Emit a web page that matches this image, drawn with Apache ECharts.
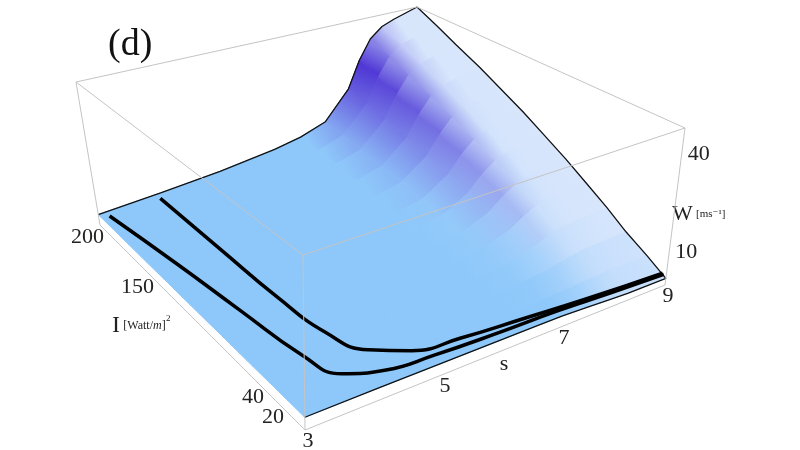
<!DOCTYPE html>
<html lang="en">
<head>
<meta charset="UTF-8">
<title>W(s, I) surface</title>
<script src="https://cdn.jsdelivr.net/npm/echarts@6/dist/echarts.min.js"></script>
<style>
  html, body { margin: 0; padding: 0; background: #fff; }
  #chart { width: 800px; height: 450px; }
</style>
</head>
<body>
<div id="chart"></div>
<script>
// grid of the surface
const sValues = [3, 4, 5, 6, 6.5, 7, 7.5, 7.75, 8, 8.25, 8.5, 9];
const iValues = [5, 22, 40, 57, 75, 92, 110, 127, 145, 162, 180, 195, 210];
// W [m/s], one row per iValues entry
const wRows = [
  [3.5, 3.5, 3.4, 3.3, 3.3, 3.2, 2.8, 2.5, 2.3, 2.1, 2.1, 2.0],
  [3.5, 3.55, 3.6, 3.7, 3.8, 3.9, 4.3, 4.7, 4.9, 5.1, 5.1, 5.25],
  [3.5, 3.7, 3.8, 4.1, 4.3, 4.7, 5.8, 6.8, 7.6, 8.0, 8.2, 8.5],
  [3.5, 3.8, 4.1, 4.6, 4.9, 5.6, 7.6, 9.4, 10.9, 11.6, 12.0, 12.5],
  [3.5, 3.9, 4.3, 5.1, 5.6, 6.5, 9.4, 12.1, 14.2, 15.2, 15.7, 16.5],
  [3.5, 4.0, 4.6, 5.5, 6.2, 7.4, 11.2, 14.7, 17.4, 18.8, 19.5, 20.5],
  [3.5, 4.1, 4.9, 6.0, 6.9, 8.3, 13.0, 17.4, 20.7, 22.4, 23.2, 24.5],
  [3.5, 4.3, 5.1, 6.5, 7.5, 9.3, 14.8, 20.0, 24.0, 26.0, 27.0, 28.5],
  [3.5, 4.4, 5.4, 7.0, 8.1, 10.2, 16.6, 22.6, 27.3, 29.6, 30.8, 32.5],
  [3.5, 4.5, 5.6, 7.5, 8.8, 11.1, 18.4, 25.3, 30.6, 33.2, 34.5, 36.5],
  [3.5, 4.6, 5.9, 7.9, 9.4, 12.0, 20.2, 27.9, 33.8, 36.8, 38.3, 40.5],
  [3.5, 4.7, 6.1, 8.4, 10.0, 12.9, 21.8, 30.4, 36.9, 40.2, 41.8, 44.25],
  [3.5, 4.8, 6.4, 8.8, 10.6, 13.7, 23.5, 32.9, 40.0, 43.6, 45.3, 48.0]
];
// the two black curves on the surface, as (s, I) pairs
const curveA = [[3.1, 205], [3.3, 150], [3.45, 100], [3.6, 50], [3.8, 25], [4.3, 15], [5, 12], [6, 10], [7, 9], [8, 8], [9, 7]];
const curveB = [[3.9, 205], [3.95, 150], [4.0, 100], [4.1, 60], [4.35, 35], [4.8, 22], [5.5, 17], [6.5, 13], [7.5, 10], [9, 8]];
// axis ticks
const sTicks = [3, 5, 7, 9];
const iTicks = [20, 40, 150, 200];
const wTicks = [10, 40];

const sRange = [3, 9], iRange = [5, 210], wRange = [0, 48];
const sPersp = 1.23;

// screen position of the box corners (bottom / top), [s, I] index
const box = {
  b00: [305, 430], b10: [665, 285], b01: [100, 225], b11: [421, 132],
  t00: [303, 255], t10: [685, 128], t01: [76, 82], t11: [417, 7]
};

function lerp(a, b, t) { return [a[0] + (b[0] - a[0]) * t, a[1] + (b[1] - a[1]) * t]; }

// trilinear box projection with a little depth along s
function project(s, I, W) {
  const u0 = (s - sRange[0]) / (sRange[1] - sRange[0]);
  const u = sPersp * u0 / (1 + (sPersp - 1) * u0);
  const v = (I - iRange[0]) / (iRange[1] - iRange[0]);
  const w = (W - wRange[0]) / (wRange[1] - wRange[0]);
  const bot = lerp(lerp(box.b00, box.b10, u), lerp(box.b01, box.b11, u), v);
  const top = lerp(lerp(box.t00, box.t10, u), lerp(box.t01, box.t11, u), v);
  return lerp(bot, top, w);
}

function findCell(arr, x) {
  for (let k = 0; k < arr.length - 1; k++) if (x <= arr[k + 1]) return k;
  return arr.length - 2;
}
function surfW(s, I) {
  const a = findCell(sValues, s), b = findCell(iValues, I);
  const ts = (s - sValues[a]) / (sValues[a + 1] - sValues[a]);
  const ti = (I - iValues[b]) / (iValues[b + 1] - iValues[b]);
  const w0 = wRows[b][a] + (wRows[b][a + 1] - wRows[b][a]) * ts;
  const w1 = wRows[b + 1][a] + (wRows[b + 1][a + 1] - wRows[b + 1][a]) * ts;
  return w0 + (w1 - w0) * ti;
}

// cells, far ones first
const cells = [];
for (let b = 0; b < iValues.length - 1; b++)
  for (let a = 0; a < sValues.length - 1; a++) cells.push([a, b]);
cells.sort((p, q) => (q[0] / sValues.length + q[1] / iValues.length) - (p[0] / sValues.length + p[1] / iValues.length));

const cBlue = [142, 200, 250], cPurple = [76, 50, 212], cPale = [216, 230, 252];
// shade at a grid node from the local slopes
function nodeColor(a, b) {
  const a0 = Math.max(0, a - 1), a1 = Math.min(sValues.length - 1, a + 1);
  const b0 = Math.max(0, b - 1), b1 = Math.min(iValues.length - 1, b + 1);
  const gs = (wRows[b][a1] - wRows[b][a0]) / (sValues[a1] - sValues[a0]);
  const gI = (wRows[b1][a] - wRows[b0][a]) / (iValues[b1] - iValues[b0]) * 100;
  const t1 = Math.max(0, Math.min(1, (gs - 6) / 26));
  const t2 = Math.max(0, Math.min(1, (gI - 4) / 18)) * (1 - t1);
  return [0, 1, 2].map(k => cBlue[k] * (1 - t1 - t2) + cPurple[k] * t1 + cPale[k] * t2);
}
function mix(c1, c2) { return 'rgb(' + c1.map((v, k) => Math.round((v + c2[k]) / 2)).join(',') + ')'; }

function curvePts(curve) { return curve.map(p => project(p[0], p[1], surfW(p[0], p[1]) + 0.4)); }

const outline = [];
sValues.forEach((s, a) => outline.push(project(s, iValues[0], wRows[0][a])));
iValues.forEach((I, b) => outline.push(project(9, I, wRows[b][sValues.length - 1])));
outline.push(null);
for (let a = sValues.length - 1; a >= 0; a--) outline.push(project(sValues[a], 210, wRows[iValues.length - 1][a]));

const gray = '#c4c4c4';
function edge(p, q) { return [p, q, null]; }
const boxLines = [].concat(
  edge(box.b00, box.b10), edge(box.b00, box.b01),
  edge(box.b00, box.t00), edge(box.b10, box.t10), edge(box.b01, box.t01),
  edge(box.t00, box.t10), edge(box.t10, box.t11), edge(box.t11, box.t01), edge(box.t01, box.t00)
);

const chart = echarts.init(document.getElementById('chart'));
chart.setOption({
  animation: false,
  grid: { left: 0, right: 0, top: 0, bottom: 0 },
  xAxis: { type: 'value', min: 0, max: 800, show: false },
  yAxis: { type: 'value', min: 0, max: 450, inverse: true, show: false },
  series: [
    {
      type: 'custom',
      data: cells,
      renderItem: function (params, api) {
        const a = api.value(0), b = api.value(1);
        const pts = [[a, b], [a + 1, b], [a + 1, b + 1], [a, b + 1]].map(
          ([x, y]) => api.coord(project(sValues[x], iValues[y], wRows[y][x])));
        const left = [(pts[0][0] + pts[3][0]) / 2, (pts[0][1] + pts[3][1]) / 2];
        const right = [(pts[1][0] + pts[2][0]) / 2, (pts[1][1] + pts[2][1]) / 2];
        const cl = mix(nodeColor(a, b), nodeColor(a, b + 1));
        const cr = mix(nodeColor(a + 1, b), nodeColor(a + 1, b + 1));
        const fill = new echarts.graphic.LinearGradient(left[0], left[1], right[0], right[1],
          [{ offset: 0, color: cl }, { offset: 1, color: cr }], true);
        return { type: 'polygon', shape: { points: pts }, style: { fill: fill, stroke: fill, lineWidth: 0.8 } };
      },
      z: 2
    },
    { type: 'line', data: outline, showSymbol: false, lineStyle: { color: '#111', width: 1.3 }, z: 3 },
    { type: 'line', data: curvePts(curveA), smooth: true, showSymbol: false, lineStyle: { color: '#000', width: 3.5 }, z: 4 },
    { type: 'line', data: curvePts(curveB), smooth: true, showSymbol: false, lineStyle: { color: '#000', width: 3.5 }, z: 4 },
    { type: 'line', data: boxLines, showSymbol: false, lineStyle: { color: gray, width: 1 }, z: 5 }
  ]
});

// tick labels and axis titles, placed along the projected edges
const serif = '"Liberation Serif", "DejaVu Serif", serif';
const texts = [];
function label(pos, text, dx, dy, size, align) {
  const p = chart.convertToPixel({ gridIndex: 0 }, pos);
  texts.push({ type: 'text', x: p[0] + dx, y: p[1] + dy,
    style: { text: text, font: size + 'px ' + serif, fill: '#222', align: align || 'center', verticalAlign: 'middle' } });
}
sTicks.forEach(s => label(project(s, iRange[0], 0), String(s), 3, 11, 22));
iTicks.forEach(I => label(project(sRange[0], I, 0), String(I), -6, 2, 22, 'right'));
wTicks.forEach(W => label(project(9, iRange[0], W), String(W), 6, 0, 22, 'left'));
texts.push({ type: 'text', x: 108, y: 45, style: { text: '(d)', font: '38px ' + serif, fill: '#111', verticalAlign: 'middle' } });
texts.push({ type: 'text', x: 504, y: 364, style: { text: 's', font: '22px ' + serif, fill: '#222', align: 'center', verticalAlign: 'middle' } });
texts.push({ type: 'text', x: 112, y: 326, style: {
  text: '{b|I} {s|[Watt/}{i|m}{s|]}', verticalAlign: 'middle',
  rich: { b: { font: '24px ' + serif, fill: '#222' }, s: { font: '12px ' + serif, fill: '#222' },
          i: { font: 'italic 12px ' + serif, fill: '#222' } } } });
texts.push({ type: 'text', x: 166, y: 314, style: { text: '2', font: '9px ' + serif, fill: '#222' } });
texts.push({ type: 'text', x: 672, y: 214, style: {
  text: '{b|W} {s|[ms⁻¹]}', verticalAlign: 'middle',
  rich: { b: { font: '22px ' + serif, fill: '#222' }, s: { font: '11px ' + serif, fill: '#222' } } } });
chart.setOption({ graphic: texts });
</script>
</body>
</html>
